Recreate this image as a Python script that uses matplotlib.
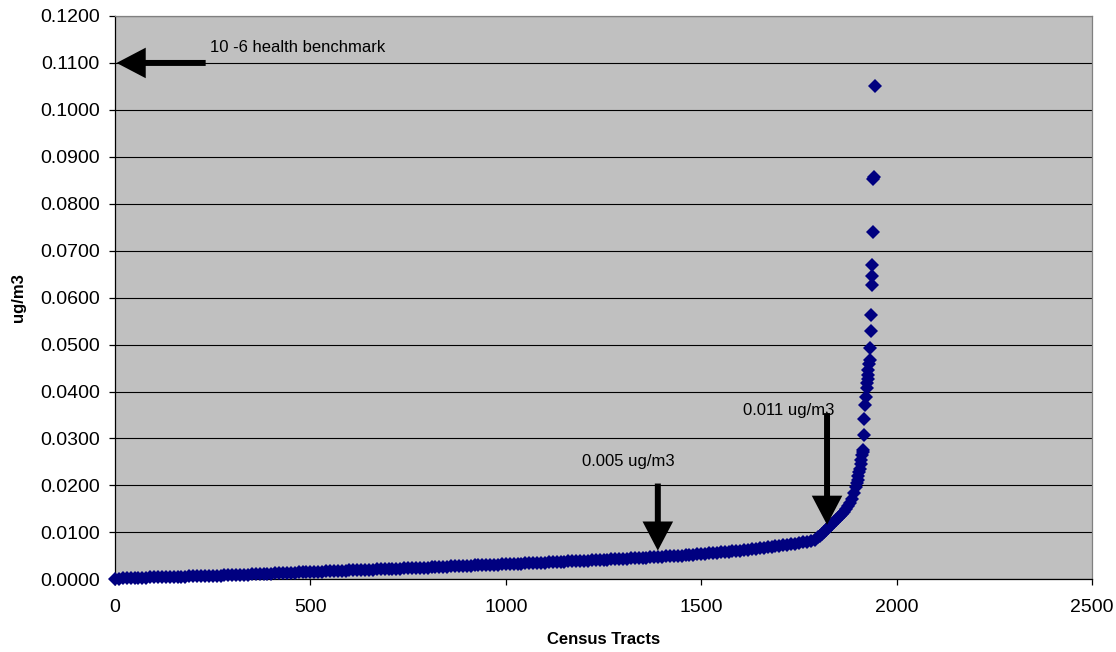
import matplotlib
matplotlib.use("Agg")
import matplotlib.pyplot as plt
from matplotlib.ticker import MultipleLocator, FormatStrFormatter

plt.rcParams['font.family'] = ['Liberation Sans', 'DejaVu Sans']

# ---- data: sorted concentrations (ug/m3) by census tract rank ----
# body of the distribution, read every 10 tracts (rank 0 .. 1790)
body_rank = list(range(0, 1800, 10))
body_conc = [
    0.00010, 0.00017, 0.00022, 0.00026, 0.00029, 0.00031, 0.00033, 0.00036, 0.00038, 0.00040,
    0.00042, 0.00044, 0.00046, 0.00048, 0.00050, 0.00052, 0.00054, 0.00056, 0.00058, 0.00060,
    0.00062, 0.00065, 0.00067, 0.00070, 0.00072, 0.00075, 0.00078, 0.00080, 0.00083, 0.00086,
    0.00089, 0.00092, 0.00095, 0.00098, 0.00101, 0.00104, 0.00107, 0.00110, 0.00113, 0.00116,
    0.00120, 0.00124, 0.00127, 0.00131, 0.00134, 0.00138, 0.00141, 0.00145, 0.00149, 0.00152,
    0.00156, 0.00159, 0.00163, 0.00166, 0.00169, 0.00172, 0.00175, 0.00179, 0.00182, 0.00186,
    0.00189, 0.00192, 0.00195, 0.00198, 0.00201, 0.00204, 0.00207, 0.00210, 0.00213, 0.00216,
    0.00220, 0.00223, 0.00226, 0.00229, 0.00232, 0.00235, 0.00238, 0.00241, 0.00244, 0.00247,
    0.00251, 0.00254, 0.00258, 0.00262, 0.00266, 0.00270, 0.00274, 0.00278, 0.00282, 0.00286,
    0.00290, 0.00293, 0.00296, 0.00299, 0.00302, 0.00305, 0.00308, 0.00311, 0.00314, 0.00317,
    0.00320, 0.00324, 0.00328, 0.00331, 0.00335, 0.00338, 0.00342, 0.00346, 0.00349, 0.00353,
    0.00357, 0.00361, 0.00364, 0.00368, 0.00372, 0.00376, 0.00380, 0.00384, 0.00388, 0.00392,
    0.00396, 0.00400, 0.00404, 0.00408, 0.00412, 0.00416, 0.00420, 0.00424, 0.00428, 0.00432,
    0.00436, 0.00440, 0.00444, 0.00448, 0.00452, 0.00456, 0.00461, 0.00466, 0.00471, 0.00476,
    0.00481, 0.00486, 0.00491, 0.00496, 0.00501, 0.00507, 0.00513, 0.00519, 0.00525, 0.00531,
    0.00537, 0.00543, 0.00550, 0.00557, 0.00564, 0.00571, 0.00578, 0.00586, 0.00594, 0.00602,
    0.00610, 0.00620, 0.00630, 0.00640, 0.00650, 0.00660, 0.00670, 0.00680, 0.00690, 0.00705,
    0.00720, 0.00730, 0.00740, 0.00750, 0.00760, 0.00772, 0.00785, 0.00800, 0.00817, 0.00840,
]

# upper tail, read point by point
tail_rank = [1800, 1805, 1810, 1815, 1820, 1825, 1830, 1835, 1840, 1845,
             1850, 1855, 1860, 1865, 1870, 1875, 1880, 1885, 1890, 1895,
             1898, 1900, 1902, 1904, 1906, 1908, 1910, 1912, 1913, 1914,
             1916, 1917, 1919, 1921, 1923, 1924, 1926, 1927, 1928, 1930,
             1932, 1933, 1934, 1935, 1936, 1937, 1938, 1939, 1940, 1941, 1945]
tail_conc = [0.0090, 0.0093, 0.0097, 0.0101, 0.0106, 0.0110, 0.0114, 0.0118, 0.0122, 0.0126,
             0.0130, 0.0134, 0.0139, 0.0144, 0.0150, 0.0156, 0.0162, 0.0172, 0.0184, 0.0196,
             0.0205, 0.0212, 0.0220, 0.0228, 0.0236, 0.0245, 0.0254, 0.0264, 0.0271, 0.0276,
             0.0307, 0.0341, 0.0371, 0.0389, 0.0407, 0.0418, 0.0427, 0.0436, 0.0446, 0.0458,
             0.0467, 0.0492, 0.0528, 0.0564, 0.0626, 0.0646, 0.0670, 0.0740, 0.0852, 0.0856, 0.1050]

# annotations
benchmark_text = "10 -6 health benchmark"
benchmark_level = 0.1100
note_texts = ["0.005 ug/m3", "0.011 ug/m3"]
note_ranks = [1389, 1822]

x_ticks = [0, 500, 1000, 1500, 2000, 2500]

# ---- figure ----
fig = plt.figure(figsize=(11.16, 6.52), dpi=100)
fig.patch.set_facecolor('white')
ax = fig.add_axes([115 / 1116, 1 - 579.3 / 652, 977 / 1116, 563.3 / 652])
ax.set_facecolor('#C0C0C0')

ax.set_xlim(0, 2500)
ax.set_ylim(0, 0.12)
ax.set_xticks(x_ticks)
ax.yaxis.set_major_locator(MultipleLocator(0.01))
ax.yaxis.set_major_formatter(FormatStrFormatter('%.4f'))
ax.grid(axis='y', color='black', linewidth=0.8, zorder=1)
ax.set_axisbelow(True)

for s in ['top', 'right']:
    ax.spines[s].set_color('#808080')
    ax.spines[s].set_linewidth(0.9)
for s in ['left', 'bottom']:
    ax.spines[s].set_color('black')
    ax.spines[s].set_linewidth(0.9)

ax.tick_params(axis='both', direction='out', length=4, width=0.9, labelsize=14, colors='black')
ax.tick_params(axis='x', pad=10)
ax.tick_params(axis='y', pad=7)

ax.plot(body_rank + tail_rank, body_conc + tail_conc, linestyle='none', marker='D',
        markersize=7.0, color='#000080', markeredgewidth=0, zorder=3, clip_on=False)

ax.set_xlabel("Census Tracts", fontsize=12, fontweight='bold', labelpad=12)
ax.set_ylabel("ug/m3", fontsize=12, fontweight='bold', labelpad=10)

arrow_props = dict(width=4.3, headwidth=22, headlength=21, facecolor='black',
                   edgecolor='black', linewidth=0, shrink=0)

# benchmark arrow pointing to the y axis
ax.annotate('', xy=(4, benchmark_level), xytext=(232, benchmark_level),
            arrowprops=arrow_props, zorder=4)
ax.text(243, 0.1133, benchmark_text, fontsize=12, ha='left', va='center')

# vertical arrows to the curve
ax.annotate('', xy=(note_ranks[0], 0.0061), xytext=(note_ranks[0], 0.0204),
            arrowprops=arrow_props, zorder=4)
ax.text(1195, 0.0250, note_texts[0], fontsize=12, ha='left', va='center')
ax.annotate('', xy=(note_ranks[1], 0.0116), xytext=(note_ranks[1], 0.0354),
            arrowprops=arrow_props, zorder=4)
ax.text(1608, 0.0359, note_texts[1], fontsize=12, ha='left', va='center')

fig.savefig("out.png", dpi=100)
